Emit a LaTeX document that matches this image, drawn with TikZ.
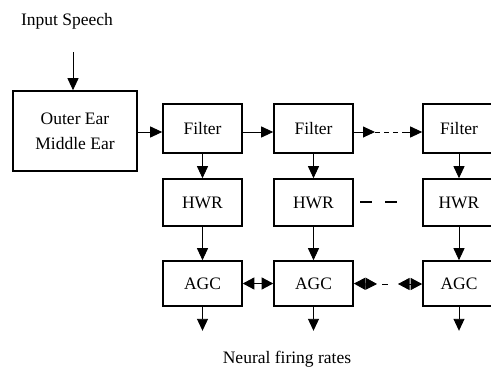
\documentclass[tikz,border=0pt]{standalone}
\usepackage{fontspec}
\setmainfont{Liberation Serif}
\usetikzlibrary{arrows.meta}
\begin{document}
\begin{tikzpicture}[x = 1pt, y = -1pt,
		font = \fontsize{17.5}{25}\selectfont,
		block/.style = {draw, line width = 1.6pt, minimum width = 79pt, inner sep = 0pt},
		arr/.style = {line width = 0.9pt, -{Triangle[length = 12pt, width = 11pt]}},
		twoarr/.style = {line width = 0.9pt, {Triangle[length = 11.5pt, width = 12pt]}-{Triangle[length = 11.5pt, width = 12pt]}}]
		\useasboundingbox (0, 0) rectangle (491, 370);
		% input and outer ear
			\node (speech) at (67, 21) {Input Speech};
			\node[block, minimum width = 124pt, minimum height = 80pt, align = center] (ear) at (75, 131) {Outer Ear\\Middle Ear};
			\coordinate (in) at (73, 52);
			\draw[arr] (in) -- (in |- ear.north);
		% the three channels
			\node[block, minimum height = 49pt] (filter1) at (202.5, 128.5) {Filter};
			\node[block, minimum height = 49pt] (filter2) at (313.5, 128.5) {Filter};
			\node[block, minimum height = 49pt, minimum width = 72pt] (filter3) at (459, 128.5) {Filter};
			\node[block, minimum height = 47pt] (hwr1) at (202.5, 202.5) {HWR};
			\node[block, minimum height = 47pt] (hwr2) at (313.5, 202.5) {HWR};
			\node[block, minimum height = 47pt, minimum width = 72pt] (hwr3) at (459, 202.5) {HWR};
			\node[block, minimum height = 45pt] (agc1) at (202.5, 283.5) {AGC};
			\node[block, minimum height = 45pt] (agc2) at (313.5, 283.5) {AGC};
			\node[block, minimum height = 45pt, minimum width = 72pt] (agc3) at (459, 283.5) {AGC};
			\node (rates) at (287, 359) {Neural firing rates};
		% down the channels
		\foreach \i in {1, 2, 3} {
			\draw[arr] (filter\i) -- (hwr\i);
			\draw[arr] (hwr\i) -- (agc\i);
			\coordinate (out\i) at ([yshift = -24pt] agc\i.south);
			\draw[arr] (agc\i) -- (out\i);
		}
		% across the channels
			\coordinate (row) at (0, 132);
			\draw[arr] (ear.east |- row) -- (filter1.west |- row);
			\draw[arr] (filter1.east |- row) -- (filter2.west |- row);
			\coordinate (d1) at (375, 132);
			\coordinate (d2) at (407, 132);
			\draw[arr] (filter2.east |- row) -- (d1);
			\draw[line width = 0.9pt, dash pattern = on 5pt off 4pt] (d1) -- (d2);
			\draw[arr] (d2) -- (filter3.west |- row);
			\coordinate (h1) at (360, 202);
			\coordinate (h2) at (397, 202);
			\draw[line width = 1.6pt, dash pattern = on 12pt off 13pt] (h1) -- (h2);
			\draw[twoarr] (agc1) -- (agc2);
			\coordinate (a1) at (377, 284);
			\coordinate (a2) at (398, 284);
			\draw[twoarr] (agc2.east) -- (a1);
			\draw[line width = 0.9pt] (382, 284) -- (388, 284);
			\draw[twoarr] (a2) -- (agc3.west |- a2);
	\end{tikzpicture}
\end{document}
